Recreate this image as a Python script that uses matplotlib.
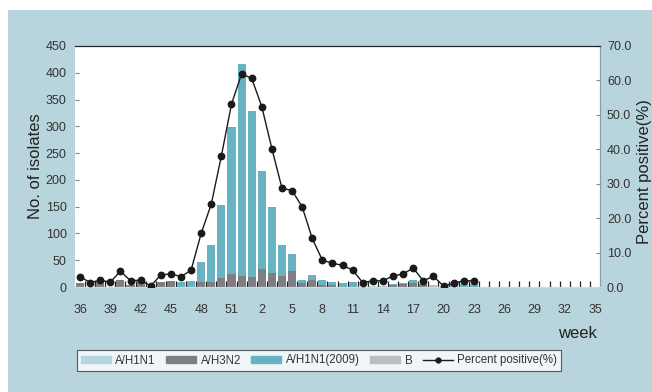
import numpy as np
import matplotlib
matplotlib.use("Agg")
import matplotlib.pyplot as plt
from matplotlib.patches import Rectangle
from matplotlib.lines import Line2D
from matplotlib.patches import Patch

# weeks 36..52 then 1..35
weeks = list(range(36, 53)) + list(range(1, 36))

h1n1 = [0] * 29 + [2] + [0] * 22
h3n2 = [8, 0, 10, 0, 13, 4, 12, 0, 10, 12, 0, 0, 10, 10, 17, 24, 21, 19, 34, 26, 21, 30,
        8, 14, 4, 4, 0, 0, 0, 0, 0, 3, 5, 8, 6, 0, 0, 0, 0, 0] + [0] * 12
h1n1_2009 = [0, 0, 0, 0, 0, 0, 0, 0, 0, 0, 10, 12, 37, 68, 136, 275, 395, 310, 183, 123, 57, 32,
             6, 8, 9, 6, 8, 10, 0, 0, 0, 3, 3, 5, 0, 0, 0, 3, 6, 6] + [0] * 12
b = [0] * 30 + [2, 0, 0, 0, 0, 4] + [0] * 16
pct = [3.0, 1.3, 2.0, 1.4, 4.6, 1.8, 2.0, 0.3, 3.5, 3.8, 3.0, 4.9, 15.6, 24.1, 38.1, 53.1,
       61.9, 60.6, 52.4, 40.2, 28.7, 28.0, 23.3, 14.1, 7.8, 6.9, 6.3, 4.9, 1.3, 1.8, 1.8, 3.2,
       3.8, 5.5, 1.8, 3.1, 0.3, 1.1, 1.8, 1.8]

C_H1 = "#b3d6df"
C_H3 = "#7e7e84"
C_09 = "#68b2c1"
C_B = "#bdbdc1"
PANEL = "#b8d4dc"
TXT = "#333333"

plt.rcParams.update({"font.family": "Liberation Sans", "text.color": TXT,
                     "xtick.color": TXT, "ytick.color": TXT})

fig = plt.figure(figsize=(6.52, 3.92), dpi=100, facecolor="white")
fig.patches.append(Rectangle((8 / 652, 0), 1, (392 - 10) / 392, transform=fig.transFigure,
                             facecolor=PANEL, edgecolor="none", zorder=-10))

ax = fig.add_axes([75 / 652, 1 - 287 / 392, 525 / 652, 241 / 392])
ax.set_facecolor("white")
x = np.arange(len(weeks))
w = 0.8
bot = np.zeros(len(weeks))
for vals, col in [(h1n1, C_H1), (h3n2, C_H3), (h1n1_2009, C_09), (b, C_B)]:
    ax.bar(x, vals, w, bottom=bot, color=col, edgecolor="none", zorder=2)
    bot += np.array(vals)

ax.set_xlim(-0.5, len(weeks) - 0.5)
ax.set_ylim(0, 450)
ax.set_yticks(range(0, 451, 50))
ax.tick_params(axis="y", direction="in", length=3, color="#888888", labelsize=9, pad=6)
ax.set_xticks(x[::3])
ax.set_xticklabels([str(v) for v in weeks[::3]])
ax.set_xticks(x[:-1] + 0.5, minor=True)
ax.tick_params(axis="x", which="major", length=0, labelsize=9, pad=12)
ax.tick_params(axis="x", which="minor", direction="in", length=4, width=0.9, color="#222222")
for s in ["left"]:
    ax.spines[s].set_visible(False)
ax.spines["top"].set_color("#222222")
ax.spines["bottom"].set_color("#cfdde1")
ax.spines["right"].set_color("#8c9ca0")
ax.set_ylabel("No. of isolates", fontsize=12, color="#222222")
ax.yaxis.set_label_coords(-0.06, 0.5)

ax2 = ax.twinx()
ax2.plot(np.arange(len(pct)), pct, color="#1a1a1a", lw=1, marker="o", ms=4.6, zorder=5)
ax2.set_ylim(0, 70)
ax2.set_yticks(range(0, 71, 10))
ax2.set_yticklabels([f"{v:.1f}" for v in range(0, 71, 10)])
ax2.tick_params(axis="y", direction="in", length=3, color="#888888", labelsize=9, pad=5)
ax2.spines["left"].set_visible(False)
ax2.spines["top"].set_color("#222222")
ax2.spines["right"].set_color("#8c9ca0")
ax2.spines["bottom"].set_color("#cfdde1")
ax2.set_ylabel("Percent positive(%)", fontsize=12, color="#222222")
ax2.yaxis.set_label_coords(1.07, 0.48)

fig.text(597 / 652, 1 - 333 / 392, "week", ha="right", va="center", fontsize=12, color="#222222")

handles = [Patch(color=C_H1, label="A/H1N1"), Patch(color=C_H3, label="A/H3N2"),
           Patch(color=C_09, label="A/H1N1(2009)"), Patch(color=C_B, label="B"),
           Line2D([], [], color="#1a1a1a", lw=1, marker="o", ms=3.5, label="Percent positive(%)")]
leg = fig.legend(handles=handles, ncol=5, loc="center", bbox_to_anchor=(319 / 652, 1 - 360.5 / 392),
                 fontsize=8.3, frameon=True, fancybox=False, handlelength=2.6, handleheight=0.6,
                 handletextpad=0.4, columnspacing=0.9, borderpad=0.35, borderaxespad=0)
leg.get_frame().set_edgecolor("#333333")
leg.get_frame().set_linewidth(0.8)
leg.get_frame().set_facecolor("white")

fig.savefig("out.png", dpi=100, facecolor="white")
